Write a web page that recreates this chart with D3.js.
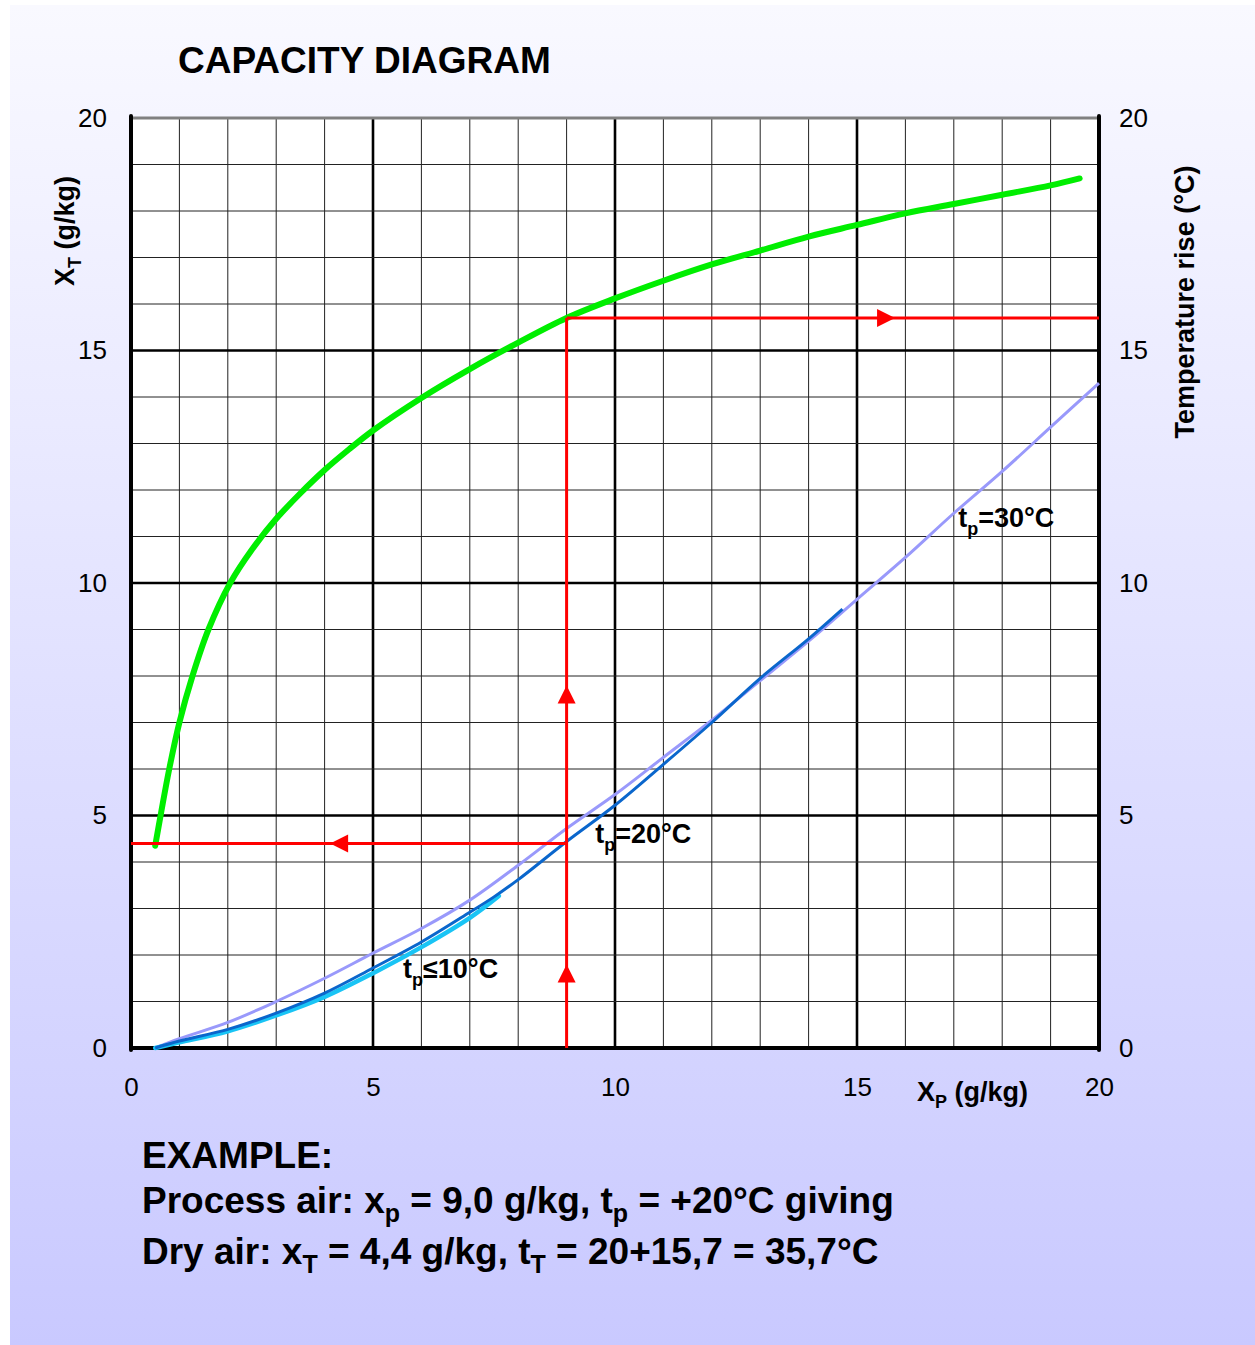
<!DOCTYPE html>
<html><head><meta charset="utf-8">
<script src="https://cdn.jsdelivr.net/npm/d3@7"></script>
<style>body{margin:0;background:#fff}svg{display:block;font-family:"Liberation Sans",Arial,sans-serif}</style>
</head><body><div id="chart"></div>
<script>
// ---------- data ----------
const axisTicks = [0, 5, 10, 15, 20];
const greenX = [0.5, 0.62, 0.79, 1.0, 1.27, 1.6, 2.05, 2.5, 3, 3.5, 4, 4.5, 5, 6, 7, 8, 9, 10, 11, 12, 13, 14, 15, 16, 17, 18, 19, 19.6];
const greenY = [4.35, 5.05, 6.0, 7.0, 8.0, 9.0, 10.0, 10.72, 11.38, 11.93, 12.43, 12.87, 13.28, 13.98, 14.6, 15.17, 15.7, 16.12, 16.5, 16.85, 17.15, 17.45, 17.7, 17.95, 18.15, 18.35, 18.55, 18.7];
const purpleX = [0.5, 1, 2, 3, 4, 5, 6, 7, 8, 9, 10, 11, 12, 13, 14, 15, 16, 17, 18, 19, 20];
const purpleY = [0, 0.2, 0.55, 1.0, 1.5, 2.04, 2.57, 3.18, 3.93, 4.72, 5.45, 6.25, 7.05, 7.9, 8.75, 9.65, 10.55, 11.5, 12.4, 13.35, 14.3];
const blueX = [0.5, 1, 2, 3, 4, 5, 6, 7, 7.5, 8, 9, 10, 11, 12, 13, 14, 14.7];
const blueY = [0, 0.15, 0.4, 0.75, 1.18, 1.72, 2.28, 2.92, 3.25, 3.62, 4.44, 5.22, 6.1, 7.0, 7.95, 8.8, 9.44];
const cyanX = [0.5, 1, 2, 3, 4, 5, 6, 7, 7.6];
const cyanY = [0, 0.12, 0.36, 0.7, 1.1, 1.61, 2.17, 2.8, 3.27];
const exampleXp = 9.0, exampleXt = 4.4, exampleRise = 15.7;
const upArrowsY = [1.6, 7.6];
const leftArrowX = 4.3, rightArrowX = 15.6;
const curveLabels = [
  {x: 17.09, y: 11.2, main: "t", sub: "p", rest: "=30°C"},
  {x: 9.59, y: 4.41, main: "t", sub: "p", rest: "=20°C"},
  {x: 5.62, y: 1.5, main: "t", sub: "p", rest: "≤10°C"}
];

// ---------- layout ----------
const W = 1255, H = 1345;
const svg = d3.select("#chart").append("svg").attr("width", W).attr("height", H);
const defs = svg.append("defs");
const grad = defs.append("linearGradient").attr("id", "bg").attr("x1", 0).attr("y1", 0).attr("x2", 0).attr("y2", 1);
grad.append("stop").attr("offset", 0).attr("stop-color", "#f9f9ff");
grad.append("stop").attr("offset", 1).attr("stop-color", "#c9c9ff");
svg.append("rect").attr("x", 10).attr("y", 5).attr("width", W - 10).attr("height", H - 5).attr("fill", "url(#bg)");

const x = d3.scaleLinear().domain([0, 20]).range([131, 1099]);
const y = d3.scaleLinear().domain([0, 20]).range([1048, 118]);

svg.append("rect").attr("x", x(0)).attr("y", y(20)).attr("width", x(20) - x(0)).attr("height", y(0) - y(20)).attr("fill", "#fff");

// grid
const g = svg.append("g");
const gridVals = d3.range(1, 20);
g.selectAll(".vx").data(gridVals).join("line")
  .attr("x1", d => x(d)).attr("x2", d => x(d)).attr("y1", y(0)).attr("y2", y(20))
  .attr("stroke", d => d % 5 === 0 ? "#000" : "#222").attr("stroke-width", d => d % 5 === 0 ? 2.6 : 1);
g.selectAll(".hy").data(gridVals).join("line")
  .attr("y1", d => y(d)).attr("y2", d => y(d)).attr("x1", x(0)).attr("x2", x(20))
  .attr("stroke", d => d % 5 === 0 ? "#000" : "#222").attr("stroke-width", d => d % 5 === 0 ? 2.6 : 1);
// frame
svg.append("line").attr("x1", x(0)).attr("x2", x(20)).attr("y1", y(20)).attr("y2", y(20)).attr("stroke", "#808080").attr("stroke-width", 3);
svg.append("line").attr("x1", x(0)).attr("x2", x(0)).attr("y1", y(20) - 2).attr("y2", y(0) + 2).attr("stroke", "#000").attr("stroke-width", 4).attr("stroke-linecap", "round");
svg.append("line").attr("x1", x(20)).attr("x2", x(20)).attr("y1", y(20) - 2).attr("y2", y(0) + 2).attr("stroke", "#000").attr("stroke-width", 4).attr("stroke-linecap", "round");
svg.append("line").attr("x1", x(0)).attr("x2", x(20)).attr("y1", y(0)).attr("y2", y(0)).attr("stroke", "#000").attr("stroke-width", 4);

// curves
const line = d3.line().x(d => x(d[0])).y(d => y(d[1])).curve(d3.curveCatmullRom.alpha(0.5));
const zip = (a, b) => a.map((v, i) => [v, b[i]]);
svg.append("path").attr("d", line(zip(purpleX, purpleY))).attr("fill", "none").attr("stroke", "#9999fb").attr("stroke-width", 3);
svg.append("path").attr("d", line(zip(cyanX, cyanY))).attr("fill", "none").attr("stroke", "#19c4f5").attr("stroke-width", 4.5).attr("stroke-linecap", "round");
svg.append("path").attr("d", line(zip(blueX, blueY))).attr("fill", "none").attr("stroke", "#0a66cc").attr("stroke-width", 3);
svg.append("path").attr("d", line(zip(greenX, greenY))).attr("fill", "none").attr("stroke", "#00ee00").attr("stroke-width", 6).attr("stroke-linecap", "round");

// red example lines
const red = "#ff0000";
svg.append("line").attr("x1", x(exampleXp)).attr("x2", x(exampleXp)).attr("y1", y(0)).attr("y2", y(exampleRise)).attr("stroke", red).attr("stroke-width", 3);
svg.append("line").attr("x1", x(0)).attr("x2", x(exampleXp)).attr("y1", y(exampleXt)).attr("y2", y(exampleXt)).attr("stroke", red).attr("stroke-width", 3);
svg.append("line").attr("x1", x(exampleXp)).attr("x2", x(20)).attr("y1", y(exampleRise)).attr("y2", y(exampleRise)).attr("stroke", red).attr("stroke-width", 3);
const aL = 18, aW = 9;
upArrowsY.forEach(v => {
  const cx = x(exampleXp), ty = y(v) - 9;
  svg.append("path").attr("d", `M${cx},${ty}L${cx + aW},${ty + aL}L${cx - aW},${ty + aL}Z`).attr("fill", red);
});
{
  const tx = x(leftArrowX) - 9, cy = y(exampleXt);
  svg.append("path").attr("d", `M${tx},${cy}L${tx + aL},${cy - aW}L${tx + aL},${cy + aW}Z`).attr("fill", red);
}
{
  const tx = x(rightArrowX) + 9, cy = y(exampleRise);
  svg.append("path").attr("d", `M${tx},${cy}L${tx - aL},${cy - aW}L${tx - aL},${cy + aW}Z`).attr("fill", red);
}

// curve labels
curveLabels.forEach(l => {
  const t = svg.append("text").attr("x", x(l.x)).attr("y", y(l.y)).attr("font-size", 27).attr("font-weight", "bold").attr("fill", "#000");
  t.append("tspan").text(l.main);
  t.append("tspan").text(l.sub).attr("font-size", 18).attr("dy", 8);
  t.append("tspan").text(l.rest).attr("dy", -8);
});

// axes
const fmt = d3.format("d");
const left = svg.append("g").attr("transform", `translate(${x(0)},0)`).call(d3.axisLeft(y).tickValues(axisTicks).tickSize(0).tickPadding(24).tickFormat(fmt));
const right = svg.append("g").attr("transform", `translate(${x(20)},0)`).call(d3.axisRight(y).tickValues(axisTicks).tickSize(0).tickPadding(20).tickFormat(fmt));
const bottom = svg.append("g").attr("transform", `translate(0,${y(0)})`).call(d3.axisBottom(x).tickValues(axisTicks).tickSize(0).tickPadding(30).tickFormat(fmt));
[left, right, bottom].forEach(a => {
  a.select(".domain").remove();
  a.selectAll("text").attr("font-size", 26).attr("font-family", "Liberation Sans, Arial, sans-serif").attr("fill", "#000");
});

// axis titles
{
  const t = svg.append("text").attr("transform", `translate(74,231) rotate(-90)`).attr("text-anchor", "middle").attr("font-size", 27).attr("font-weight", "bold");
  t.append("tspan").text("X");
  t.append("tspan").text("T").attr("font-size", 18).attr("dy", 7);
  t.append("tspan").text(" (g/kg)").attr("dy", -7);
}
svg.append("text").attr("transform", `translate(1194,302) rotate(-90)`).attr("text-anchor", "middle").attr("font-size", 27).attr("font-weight", "bold").text("Temperature rise (°C)");
{
  const t = svg.append("text").attr("x", 917).attr("y", 1101).attr("font-size", 27).attr("font-weight", "bold");
  t.append("tspan").text("X");
  t.append("tspan").text("P").attr("font-size", 18).attr("dy", 7);
  t.append("tspan").text(" (g/kg)").attr("dy", -7);
}

// title
svg.append("text").attr("x", 178).attr("y", 73).attr("font-size", 37).attr("font-weight", "bold").text("CAPACITY DIAGRAM");

// example text
svg.append("text").attr("x", 142).attr("y", 1168).attr("font-size", 37).attr("font-weight", "bold").text("EXAMPLE:");
function rich(yPos, parts) {
  const t = svg.append("text").attr("x", 142).attr("y", yPos).attr("font-size", 37).attr("font-weight", "bold");
  parts.forEach(p => {
    if (p.sub) t.append("tspan").text(p.sub).attr("font-size", 25).attr("dy", 9);
    else t.append("tspan").text(p.t).attr("dy", p.after ? -9 : 0);
  });
}
rich(1213, [{t: "Process air: x"}, {sub: "p"}, {t: " = 9,0 g/kg, t", after: true}, {sub: "p"}, {t: " = +20°C giving", after: true}]);
rich(1264, [{t: "Dry air: x"}, {sub: "T"}, {t: " = 4,4 g/kg, t", after: true}, {sub: "T"}, {t: " = 20+15,7 = 35,7°C", after: true}]);
</script></body></html>
